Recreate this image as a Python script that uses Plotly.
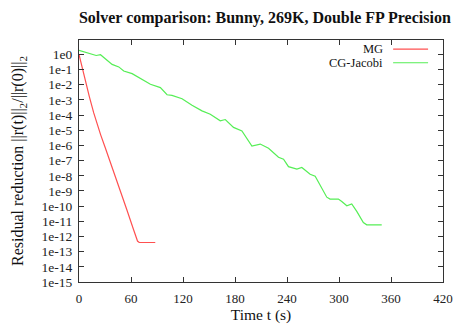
import plotly.graph_objects as go

# ---- data ----
mg_t = [0, 3, 7.5, 12, 17, 21, 25, 30, 35, 45, 55, 63, 66, 67.5, 69.5, 88]
mg_r = [1.0, 1.8e-1, 1.8e-2, 1.6e-3, 1.4e-4, 2.5e-5, 5.0e-6, 7.9e-7, 1.26e-7,
        2.8e-9, 6.3e-11, 2.8e-12, 8.9e-13, 5.0e-13, 4.0e-13, 4.0e-13]

cg_t = [0, 11.3, 19.8, 24.8, 30.5, 38.2, 45.9, 51.6, 61.3, 70.9, 82.4, 93.9,
        101.6, 107.3, 118.9, 130.4, 141.9, 151.5, 159.2, 163, 168.8, 178.3,
        188, 199.5, 209.1, 218.7, 230.2, 236, 241.7, 251.4, 257.1, 266.7,
        272.5, 278.2, 285.9, 289.7, 299.3, 303.2, 309, 314.7, 320.5, 328.1,
        332, 349.3]
cg_r = [1.86, 1.23, 0.85, 0.95, 0.52, 0.22, 0.15, 8.1e-2, 5.4e-2, 2.5e-2,
        1.07e-2, 6.5e-3, 2.2e-3, 2.0e-3, 1.2e-3, 4.5e-4, 1.9e-4, 1.15e-4,
        5.4e-5, 4.2e-5, 5.1e-5, 1.55e-5, 9.1e-6, 9.1e-7, 1.23e-6, 6.5e-7,
        1.66e-7, 1.23e-7, 4.0e-8, 2.8e-8, 3.5e-8, 1.26e-8, 9.3e-9, 2.5e-9,
        3.9e-10, 2.9e-10, 2.9e-10, 2.0e-10, 1.05e-10, 1.4e-10, 4.5e-11,
        8.3e-12, 5.9e-12, 5.9e-12]

x_ticks = [0, 60, 120, 180, 240, 300, 360, 420]
y_exps = list(range(0, -16, -1))
y_ticks = [10.0 ** e for e in y_exps]
y_labels = ["1e%d" % e for e in y_exps]

series_names = ["MG", "CG-Jacobi"]
series_colors = ["#ff5050", "#55ee55"]

FONT = "Liberation Serif"

fig = go.Figure()
fig.add_trace(go.Scatter(x=mg_t, y=mg_r, mode="lines", name=series_names[0],
                         line=dict(color=series_colors[0], width=1.2)))
fig.add_trace(go.Scatter(x=cg_t, y=cg_r, mode="lines", name=series_names[1],
                         line=dict(color=series_colors[1], width=1.2)))

axis_common = dict(showline=True, linecolor="#333333", linewidth=1, mirror="allticks",
                   ticks="inside", ticklen=5, tickcolor="#333333", showgrid=False,
                   zeroline=False, automargin=False)

fig.update_xaxes(range=[0, 420], tickvals=x_ticks, ticklabelstandoff=4,
                 tickfont=dict(family=FONT, size=13, color="#222222"),
                 title=dict(text="Time t (s)", font=dict(family=FONT, size=15.5, color="#111111"),
                            standoff=4),
                 **axis_common)
fig.update_yaxes(type="log", range=[-15, 0.95], tickvals=y_ticks, ticktext=y_labels,
                 ticklabelstandoff=3,
                 tickfont=dict(family=FONT, size=13.5, color="#222222"),
                 title=dict(text="Residual reduction ||r(t)||<sub>2</sub>/||r(0)||<sub>2</sub>",
                            font=dict(family=FONT, size=16, color="#111111"), standoff=13),
                 **axis_common)

# legend drawn gnuplot-style: right-aligned text, sample line to the right
leg_y = [0.962, 0.906]
for name, col, yy in zip(series_names, series_colors, leg_y):
    fig.add_annotation(x=0.841, y=yy, xref="paper", yref="paper", text=name,
                       showarrow=False, xanchor="right", yanchor="middle",
                       font=dict(family=FONT, size=12.5, color="#111111"))
    fig.add_shape(type="line", xref="paper", yref="paper", x0=0.863, x1=0.959,
                  y0=yy, y1=yy, line=dict(color=col, width=1.2))

fig.update_layout(
    width=463, height=324,
    margin=dict(l=78.5, r=20, t=39.5, b=41.5),
    paper_bgcolor="white", plot_bgcolor="white",
    showlegend=False,
    title=dict(text="<b>Solver comparison: Bunny, 269K, Double FP Precision</b>",
               font=dict(family=FONT, size=16, color="#111111"),
               x=0.572, xanchor="center", y=0.945, yanchor="middle"),
)

fig.write_html("out.html")
